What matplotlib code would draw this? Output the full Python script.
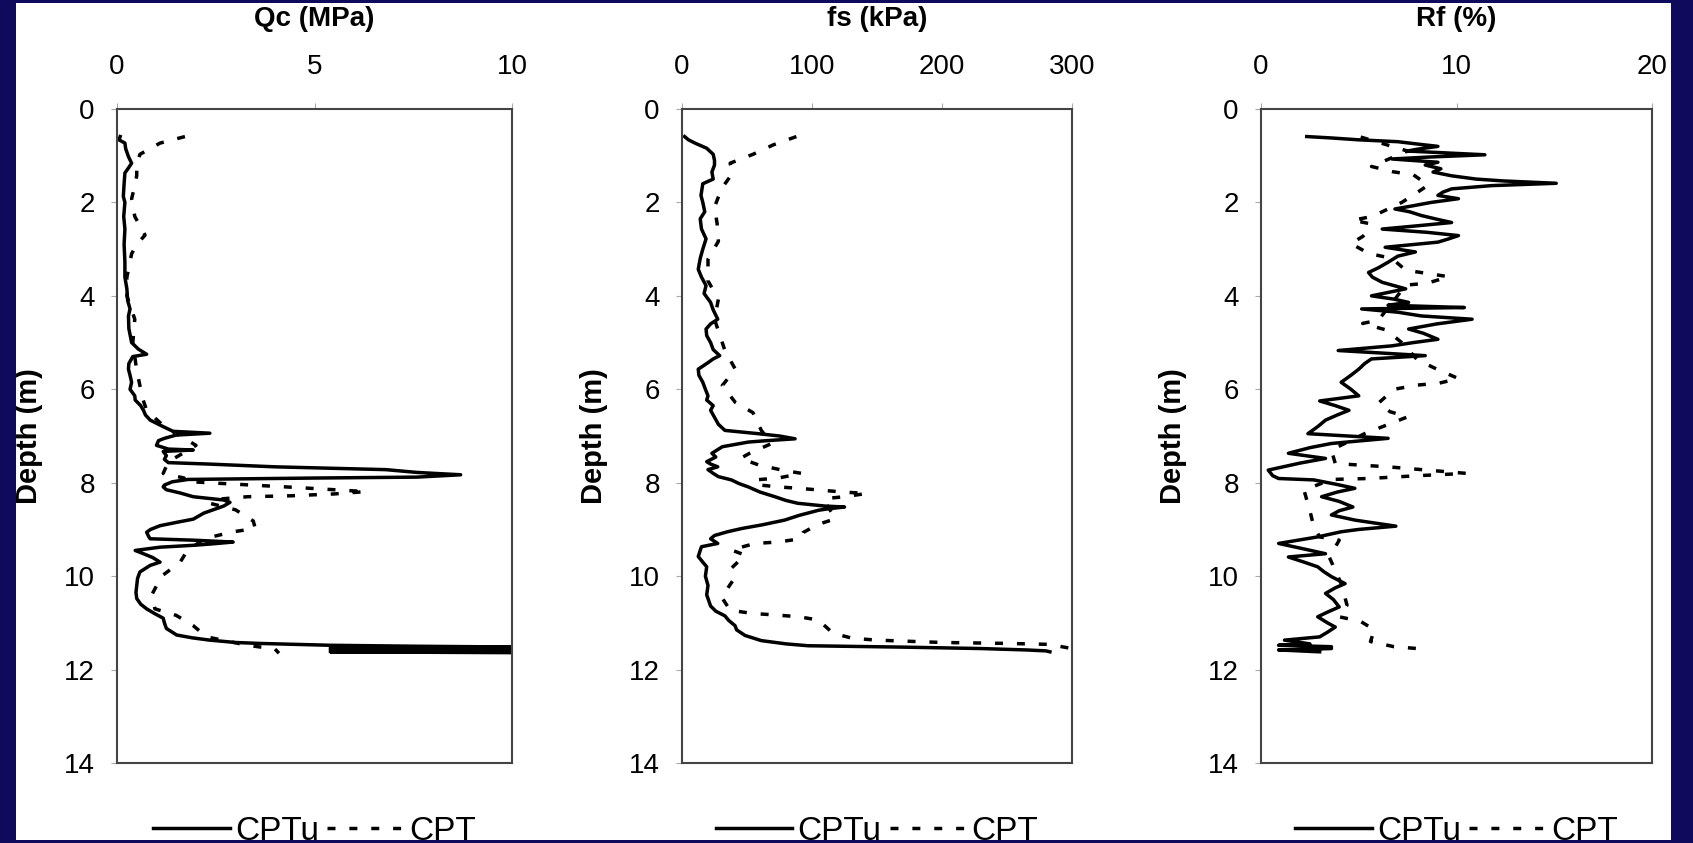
import matplotlib
matplotlib.use('Agg')
import matplotlib.pyplot as plt
from matplotlib.patches import Rectangle

plt.rcParams['font.family'] = ['Liberation Sans', 'DejaVu Sans']

# ---- data (depth in m) ----
qc_cptu_depth = [0.59, 0.66, 0.73, 0.85, 1.02, 1.16, 1.25, 1.37, 1.6, 1.87, 2.0, 2.3, 2.57, 2.9, 3.28,
                 3.6, 3.85, 4.1, 4.28, 4.43, 4.7, 5.0, 5.14, 5.25, 5.3, 5.45, 5.57, 5.7, 5.85, 6.0,
                 6.14, 6.23, 6.35, 6.45, 6.55, 6.66, 6.8, 6.9, 6.94, 6.98, 7.05, 7.1, 7.2, 7.28, 7.3,
                 7.33, 7.42, 7.5, 7.57, 7.6, 7.66, 7.72, 7.78, 7.83, 7.88, 7.9, 7.93, 7.98, 8.05, 8.09,
                 8.15, 8.22, 8.3, 8.37, 8.42, 8.5, 8.56, 8.65, 8.78, 8.85, 8.92, 9.0, 9.06, 9.15, 9.2,
                 9.23, 9.27, 9.31, 9.34, 9.38, 9.45, 9.52, 9.6, 9.7, 9.77, 9.91, 10.05, 10.2, 10.35,
                 10.48, 10.6, 10.7, 10.8, 10.9, 11.0, 11.12, 11.2, 11.26, 11.32, 11.37, 11.42, 11.44,
                 11.48, 11.5, 11.52, 11.54, 11.56, 11.58, 11.6, 11.62, 11.64]
qc_cptu = [0.08, 0.05, 0.2, 0.22, 0.29, 0.37, 0.3, 0.2, 0.18, 0.16, 0.2, 0.17, 0.2, 0.18, 0.2,
           0.2, 0.25, 0.27, 0.33, 0.29, 0.3, 0.37, 0.54, 0.75, 0.4, 0.3, 0.29, 0.33, 0.37, 0.33,
           0.45, 0.46, 0.6, 0.67, 0.72, 0.84, 1.17, 1.42, 2.35, 1.5, 1.2, 1.05, 1.0, 1.3, 1.93,
           1.17, 1.25, 1.2, 1.3, 2.3, 4.0, 6.8, 7.6, 8.7, 7.6, 5.0, 1.8, 1.4, 1.2, 1.17,
           1.25, 1.6, 1.93, 2.7, 2.86, 2.7, 2.5, 2.2, 1.93, 1.5, 1.09, 0.85, 0.75, 0.8, 0.84,
           1.93, 2.94, 2.4, 1.93, 1.09, 0.46, 0.67, 0.9, 1.09, 0.84, 0.58, 0.52, 0.5, 0.48,
           0.5, 0.6, 0.75, 0.95, 1.17, 1.2, 1.25, 1.4, 1.51, 1.9, 2.35, 3.0, 3.6,
           5.4, 7.5, 10.5, 5.4, 10.5, 5.4, 10.5, 5.4, 10.5]

qc_cpt_depth = [0.59, 0.73, 0.97, 1.2, 1.42, 1.65, 1.92, 2.3, 2.7, 2.9, 3.1, 3.6, 4.0, 4.5, 5.0,
                5.6, 6.2, 6.45, 6.8, 7.2, 7.33, 7.55, 7.8, 7.9, 7.97, 8.0, 8.05, 8.1, 8.15, 8.19,
                8.24, 8.28, 8.3, 8.35, 8.44, 8.58, 8.82, 8.98, 9.05, 9.2, 9.48, 9.7, 10.0, 10.4,
                10.7, 10.84, 11.06, 11.3, 11.48, 11.56, 11.65]
qc_cpt = [1.72, 1.09, 0.58, 0.5, 0.5, 0.45, 0.37, 0.45, 0.71, 0.5, 0.37, 0.25, 0.25, 0.45, 0.4,
          0.5, 0.65, 0.75, 1.2, 2.0, 1.75, 1.3, 1.17, 1.7, 1.7, 2.3, 3.4, 4.5, 5.5, 6.3,
          5.5, 4.4, 3.3, 2.6, 2.35, 3.0, 3.45, 3.5, 2.94, 2.2, 1.76, 1.6, 1.13, 0.88,
          0.96, 1.5, 1.93, 2.27, 3.3, 4.0, 4.1]

fs_cptu_depth = [0.59, 0.66, 0.73, 0.84, 0.97, 1.1, 1.2, 1.35, 1.5, 1.6, 1.85, 2.0, 2.2, 2.35, 2.57,
                 2.78, 3.0, 3.2, 3.43, 3.6, 3.78, 3.95, 4.14, 4.3, 4.5, 4.6, 4.71, 4.85, 5.0, 5.15,
                 5.28, 5.35, 5.43, 5.57, 5.7, 5.85, 6.0, 6.14, 6.23, 6.35, 6.45, 6.6, 6.75, 6.88,
                 6.95, 7.0, 7.06, 7.1, 7.13, 7.23, 7.3, 7.37, 7.45, 7.55, 7.6, 7.66, 7.72, 7.8,
                 7.87, 7.94, 8.02, 8.09, 8.2, 8.3, 8.38, 8.44, 8.5, 8.52, 8.56, 8.59, 8.7, 8.8,
                 8.9, 8.98, 9.05, 9.13, 9.2, 9.3, 9.37, 9.45, 9.58, 9.7, 9.8, 10.0, 10.2, 10.4,
                 10.64, 10.75, 10.85, 10.95, 11.06, 11.15, 11.27, 11.38, 11.45, 11.49, 11.52,
                 11.55, 11.58, 11.6, 11.62]
fs_cptu = [2, 5, 10, 19, 24, 25, 25, 23, 24, 16, 14.6, 16, 17.5, 14, 15,
           18.5, 16, 14, 12.5, 15, 18.5, 17, 22, 24, 27.5, 22, 18.5, 19, 22, 24,
           29, 24, 20, 12.5, 13, 16, 18, 20, 19, 24, 22, 25, 28, 33,
           58.5, 75, 87, 65, 51, 31, 27, 23, 26, 19, 22, 27.5, 20, 24,
           28, 38, 44, 51, 60, 71.5, 80, 89, 110, 125, 112, 105, 90, 79,
           62, 46, 35, 25, 22, 27.5, 15, 14, 12.5, 16, 19, 18, 20, 19,
           22, 26, 33, 36, 40.8, 42, 48.5, 61, 80, 97, 171,
           230, 265, 280, 283]

fs_cpt_depth = [0.59, 0.77, 0.97, 1.16, 1.37, 1.7, 2.1, 2.45, 2.83, 3.22, 3.68, 4.07, 4.5, 5.17,
                5.57, 5.92, 6.28, 6.5, 6.88, 7.16, 7.37, 7.48, 7.62, 7.73, 7.8, 7.9, 7.94, 8.05,
                8.09, 8.12, 8.16, 8.2, 8.23, 8.3, 8.34, 8.5, 8.77, 8.9, 9.07, 9.2, 9.27, 9.3,
                9.44, 9.55, 9.83, 10.1, 10.45, 10.73, 10.8, 10.83, 10.87, 10.94, 11.22, 11.33,
                11.37, 11.42, 11.44, 11.46, 11.55]
fs_cpt = [88, 70, 54.6, 37, 39, 30.5, 25, 27, 28, 20, 20, 28, 25, 33,
          41, 31, 41, 54.6, 61, 69, 52, 45, 59, 77, 92, 74, 56, 60,
          74, 90, 107, 124, 142, 125, 110, 112, 118, 104, 93, 91, 74, 56,
          38, 48.5, 38, 39, 30.5, 37, 54.6, 71.5, 90, 105, 116, 131,
          150, 200, 250, 282, 300]

rf_cptu_depth = [0.59, 0.62, 0.66, 0.7, 0.76, 0.8, 0.86, 0.9, 0.98, 1.03, 1.07, 1.14, 1.2, 1.28,
                 1.35, 1.43, 1.5, 1.54, 1.59, 1.64, 1.71, 1.78, 1.85, 1.92, 2.0, 2.07, 2.14, 2.2,
                 2.28, 2.36, 2.43, 2.5, 2.57, 2.64, 2.71, 2.78, 2.85, 2.96, 3.06, 3.15, 3.28, 3.4,
                 3.5, 3.6, 3.71, 3.85, 4.0, 4.07, 4.14, 4.2, 4.25, 4.28, 4.35, 4.43, 4.5, 4.6,
                 4.71, 4.8, 4.93, 5.0, 5.07, 5.17, 5.22, 5.28, 5.35, 5.45, 5.57, 5.7, 5.85, 6.0,
                 6.14, 6.25, 6.35, 6.45, 6.55, 6.66, 6.8, 6.95, 7.05, 7.16, 7.25, 7.37, 7.48, 7.58,
                 7.73, 7.85, 7.91, 7.94, 8.03, 8.12, 8.2, 8.3, 8.4, 8.52, 8.6, 8.69, 8.8, 8.93,
                 9.0, 9.05, 9.16, 9.3, 9.4, 9.52, 9.59, 9.7, 9.8, 9.9, 10.01, 10.16, 10.25, 10.37,
                 10.5, 10.66, 10.77, 10.87, 11.0, 11.09, 11.2, 11.3, 11.37, 11.45, 11.48, 11.51,
                 11.55, 11.58, 11.62]
rf_cptu = [2.34, 3.6, 5.0, 7.0, 8.2, 9.05, 8.0, 7.5, 11.45, 8.5, 6.7, 9.05, 8.4, 9.2,
           8.8, 9.75, 11.0, 12.4, 15.1, 11.8, 9.75, 9.3, 9.05, 10.1, 8.7, 7.8, 6.85, 7.6,
           8.2, 9.0, 9.75, 8.0, 6.2, 8.5, 10.1, 9.6, 9.05, 6.35, 7.9, 7.0, 6.5, 6.0,
           5.5, 5.7, 6.2, 7.4, 5.65, 6.8, 7.55, 6.5, 10.4, 5.15, 7.0, 8.2, 10.8, 9.0,
           7.55, 8.3, 9.05, 7.8, 6.7, 3.95, 6.0, 8.4, 5.65, 5.3, 5.0, 4.6, 4.1, 4.6,
           5.0, 3.0, 3.8, 4.5, 3.9, 3.3, 2.9, 2.4, 6.5, 3.6, 2.5, 1.4, 3.3, 2.0,
           0.37, 0.6, 0.9, 2.7, 3.8, 4.8, 3.9, 3.1, 4.0, 4.7, 4.0, 3.6, 4.8, 6.9,
           5.0, 4.1, 2.9, 0.9, 2.0, 3.3, 1.4, 2.2, 2.9, 3.2, 3.6, 4.3, 3.8, 3.3,
           3.7, 4.0, 3.4, 2.9, 3.4, 3.8, 3.4, 3.0, 1.2, 2.5, 0.9, 3.6,
           3.6, 0.9, 3.0]

rf_cpt_depth = [0.6, 0.9, 1.23, 1.34, 1.41, 1.63, 1.84, 2.0, 2.3, 2.38, 2.45, 2.6, 2.73, 2.88,
                3.09, 3.2, 3.45, 3.52, 3.59, 3.73, 3.77, 4.1, 4.52, 4.59, 4.73, 5.0, 5.37, 5.59,
                5.77, 5.87, 5.91, 6.0, 6.3, 6.48, 6.59, 6.77, 6.95, 7.3, 7.59, 7.66, 7.73, 7.8,
                7.85, 7.91, 7.93, 8.16, 8.6, 8.94, 9.16, 9.23, 9.6, 10.16, 10.62, 10.87, 10.97,
                11.15, 11.4, 11.51, 11.55]
rf_cpt = [5.1, 7.5, 5.65, 6.7, 7.8, 8.55, 7.8, 7.2, 5.7, 4.7, 5.5, 5.5, 5.2, 4.6,
          5.5, 6.7, 7.4, 8.5, 9.6, 8.5, 7.4, 6.8, 6.0, 5.2, 6.4, 7.2, 8.0, 9.1,
          10.1, 9.1, 8.0, 6.8, 6.0, 6.6, 7.5, 6.4, 5.3, 3.6, 3.8, 6.5, 8.5, 10.5,
          8.0, 5.5, 3.6, 2.2, 2.5, 2.7, 3.0, 4.0, 3.5, 4.1, 4.4, 4.0, 5.1,
          5.8, 5.6, 6.8, 8.0]

NAVY = '#0f0a5c'
W, H = 1693, 843


def draw_panel(fig, left, right, title, xmax, xticks, cptu, cpt):
    top, bottom = 109, 763
    ax = fig.add_axes([left / W, 1 - bottom / H, (right - left) / W, (bottom - top) / H])
    ax.plot(cptu[1], cptu[0], color='black', lw=2.5, label='CPTu')
    ax.plot(cpt[1], cpt[0], color='black', lw=2.5, linestyle=(0, (2.3, 4.0)), label='CPT')
    ax.set_xlim(0, xmax)
    ax.set_ylim(14, 0)
    ax.set_xticks(xticks)
    ax.set_yticks(range(0, 15, 2))
    ax.xaxis.tick_top()
    ax.tick_params(axis='x', direction='out', length=4, color='#aaaaaa', pad=17, labelsize=20)
    ax.tick_params(axis='y', direction='out', length=4, color='#aaaaaa', pad=12, labelsize=20)
    for s in ax.spines.values():
        s.set_color('#444444')
        s.set_linewidth(1.5)
    h = bottom - top
    ax.text(0.5, 1 + 89.5 / h, title, transform=ax.transAxes, ha='center', va='center',
            fontsize=20, fontweight='bold')
    ax.text(-88 / (right - left), 0.5, 'Depth (m)', transform=ax.transAxes, rotation=90,
            ha='center', va='center', fontsize=21, fontweight='bold')
    ax.legend(loc='center', bbox_to_anchor=(0.5, -68 / h), ncol=2, frameon=False, fontsize=24,
              handlelength=2.3, handletextpad=0.15, columnspacing=0.25)
    return ax


fig = plt.figure(figsize=(W / 100, H / 100), dpi=100, facecolor='white')

draw_panel(fig, 117, 512, 'Qc (MPa)', 10, [0, 5, 10],
           (qc_cptu_depth, qc_cptu), (qc_cpt_depth, qc_cpt))
draw_panel(fig, 682, 1072, 'fs (kPa)', 300, [0, 100, 200, 300],
           (fs_cptu_depth, fs_cptu), (fs_cpt_depth, fs_cpt))
draw_panel(fig, 1261, 1652, 'Rf (%)', 20, [0, 10, 20],
           (rf_cptu_depth, rf_cptu), (rf_cpt_depth, rf_cpt))

# navy frame around the slide
for x0, y0, w, h in [(0, 0, 16, H), (1671, 0, W - 1671, H), (0, 0, W, 3), (0, H - 3, W, 3)]:
    fig.add_artist(Rectangle((x0 / W, y0 / H), w / W, h / H, transform=fig.transFigure,
                             facecolor=NAVY, edgecolor='none', zorder=10))

fig.savefig('out.png', dpi=100, facecolor='white')
